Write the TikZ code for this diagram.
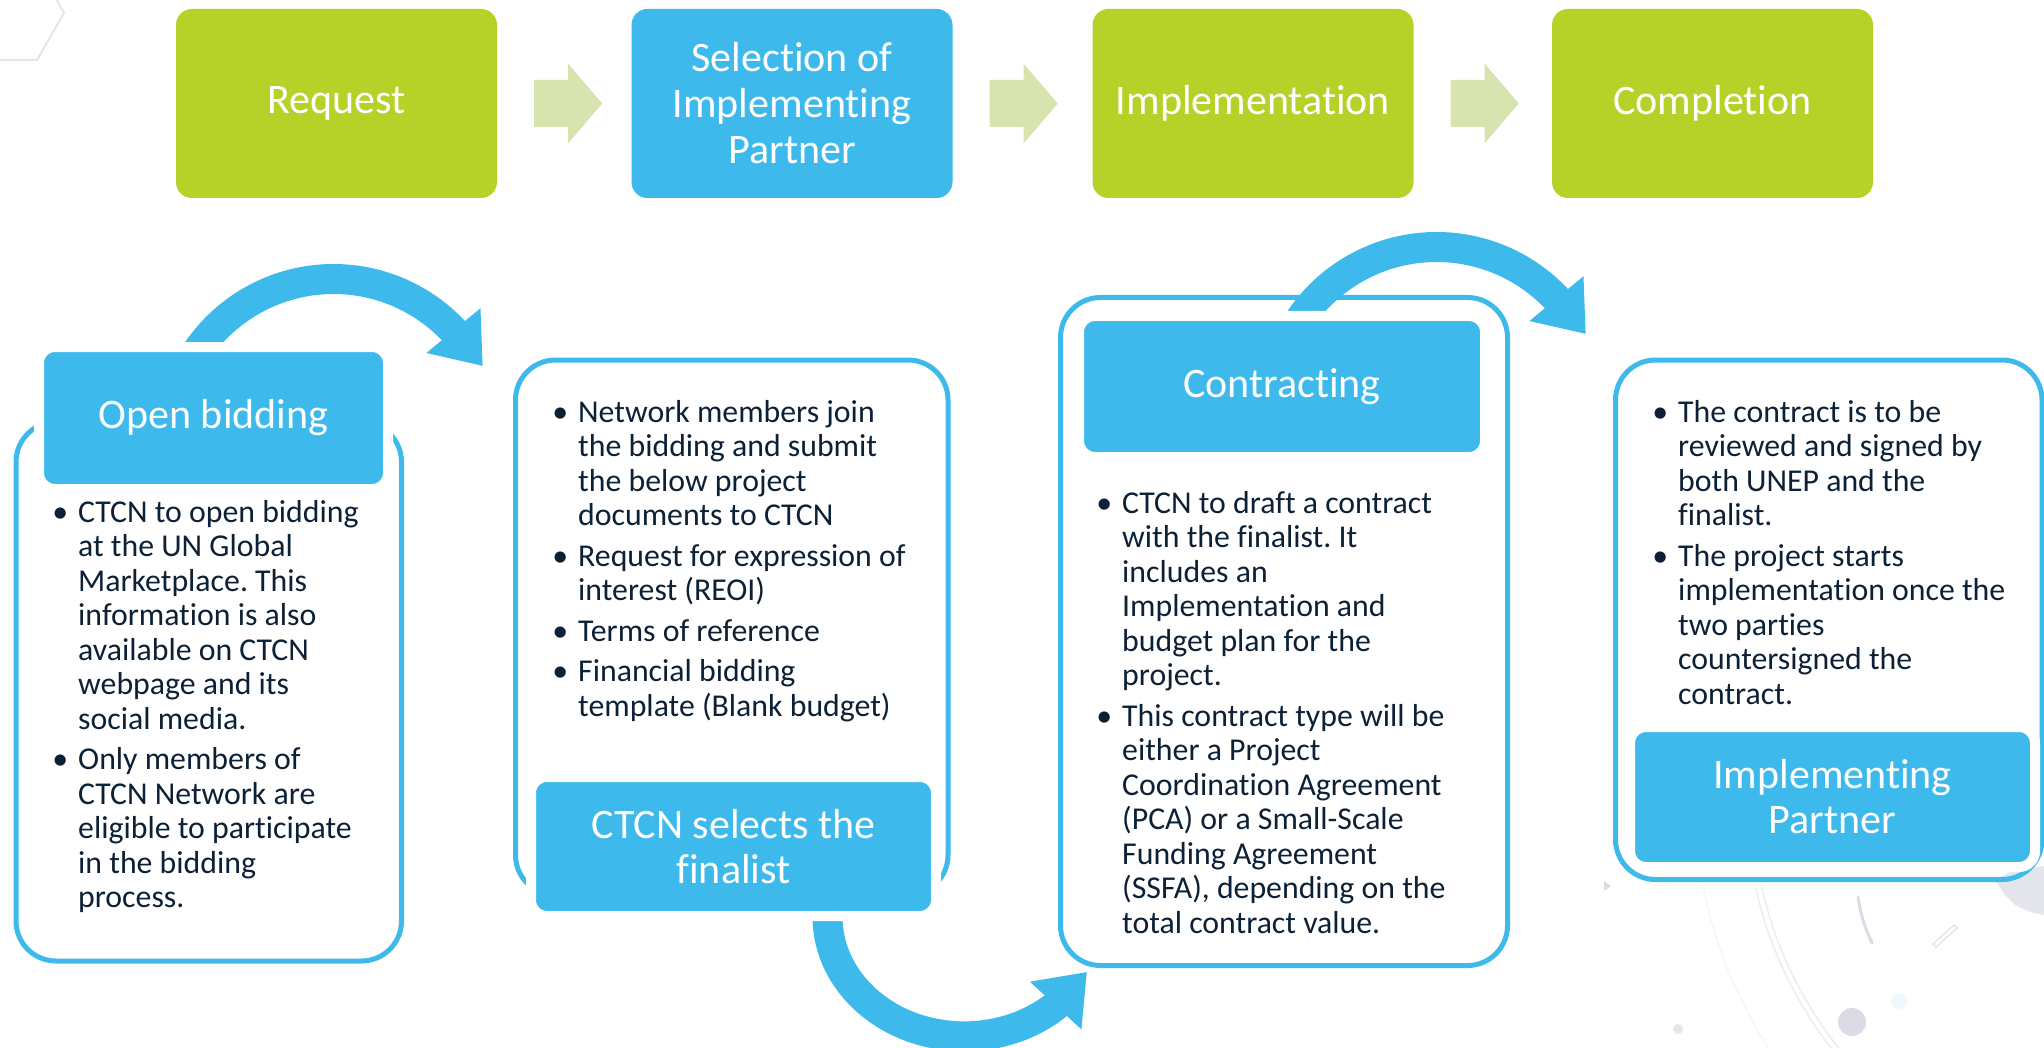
\documentclass[tikz,border=0pt]{standalone}
\usepackage{fontspec}
\setmainfont{Carlito}[Ligatures={NoCommon,NoContextual}]
\frenchspacing
\usetikzlibrary{arrows.meta,calc}
\definecolor{ctcngreen}{HTML}{B6D127}
\definecolor{ctcnblue}{HTML}{3DBAEB}
\definecolor{stepgreen}{HTML}{D8E4B0}
\definecolor{bodytext}{HTML}{0C2136}
\definecolor{faint}{HTML}{E6E6EA}
\definecolor{dust}{HTML}{DADBE5}
\newcommand{\itemdot}{\makebox[36pt]{\textbullet}}
\tikzset{
  phase/.style={rounded corners=16pt, minimum width=321pt, minimum height=189pt, inner sep=0pt, text=white, align=center, font=\fontsize{42}{46}\selectfont},
  panel/.style={draw=ctcnblue, line width=5pt, rounded corners=40pt, inner sep=0pt},
  panelhead/.style={fill=ctcnblue, draw=white, line width=10pt, rounded corners=16pt, inner sep=0pt, text=white, align=center, font=\fontsize{42}{45}\selectfont},
  bulletlist/.style={anchor=base west, inner sep=0pt, text=bodytext, font=\fontsize{31.8}{34.5}\selectfont},
  turnarrow/.style={draw=ctcnblue, line width=30pt, -{Triangle[width=67pt,length=46pt]}}
}
\begin{document}
\begin{tikzpicture}[x=1pt,y=-1pt]
\useasboundingbox (0,0) rectangle (2044,1048);
\clip (0,0) rectangle (2044,1048);
\fill[white] (0,0) rectangle (2044,1048);
\draw[faint, line width=2pt] (0,60) -- (37,60) -- (64,13) -- (40,-30);
\draw[faint!70, line width=1.5pt] (2150,800) ++(167.4:398) arc[start angle=167.4, end angle=130, radius=398];
\draw[faint!70, line width=1.5pt] (2150,800) ++(167.4:404) arc[start angle=167.4, end angle=130, radius=404];
\draw[faint!50, line width=1pt] (2150,800) ++(169:455) arc[start angle=169, end angle=140, radius=455];
\draw[dust, line width=3pt, line cap=round] (1858,897) to[bend right=8] (1872,943);
\draw[faint, line width=1.5pt] (1933,944) -- (1954,925) -- (1957,928) -- (1936,947) -- cycle;
\fill[dust!70] (1995,880) -- (2010,872) -- (2030,868) -- (2044,866) -- (2044,915) -- (2030,912) -- (2015,905) -- (2005,895) -- cycle;
\fill[dust] (1604,881) -- (1611,886) -- (1604,891) -- cycle;
\fill[dust] (1852,1022) circle[radius=14];
\fill[ctcnblue!8] (1899,1001) circle[radius=8];
\fill[gray!20] (1678,1029) circle[radius=5];

\node[phase, fill=ctcngreen] (request) at (336.5,103.5) {Request};
\node[phase, fill=ctcnblue] (selection) at (792,103.5) {Selection of\\Implementing\\Partner};
\node[phase, fill=ctcngreen] (implementation) at (1253,103.5) {Implementation};
\node[phase, fill=ctcngreen] (completion) at (1712.5,103.5) {Completion};
\foreach \s in {request,selection,implementation}
  \fill[stepgreen] ($(\s.east)+(37,-23.5)$) -- ++(34,0) -- ++(0,-16.25) -- ++(34,39.75) -- ++(-34,39.75) -- ++(0,-16.25) -- ++(-34,0) -- cycle;

\node[panel, minimum width=385.5pt, minimum height=539pt] (openbox) at (208.75,691.5) {};
\node[panel, minimum width=432.5pt, minimum height=535pt] (selectbox) at (731.75,627.5) {};
\node[panel, minimum width=447pt, minimum height=668pt] (contractbox) at (1284,631.5) {};
\node[panel, minimum width=426.5pt, minimum height=519.5pt] (partnerbox) at (1828.75,619.75) {};

\coordinate (bidturn) at (191.5,360);
\coordinate (contractturn) at (1294.5,328);
\coordinate (finalturn) at (828.2,905);
\draw[turnarrow] (bidturn) arc[start angle=-149.4, end angle=-43.2, radius=165] -- ++(29,35);
\draw[turnarrow] (contractturn) arc[start angle=-149.4, end angle=-43.2, radius=165] -- ++(29,35);
\draw[turnarrow] (finalturn) arc[start angle=185.7, end angle=48.5, x radius=136.8, y radius=119.5] -- ++(32,-34.5);

\node[panelhead, minimum width=349pt, minimum height=142pt] (openhdr) at (213.5,418) {Open bidding};
\node[panelhead, minimum width=405pt, minimum height=139pt] (selhdr) at (733.5,846.5) {CTCN selects the\\finalist};
\node[panelhead, minimum width=406pt, minimum height=141pt] (contrhdr) at (1282,386.5) {Contracting};
\node[panelhead, minimum width=405pt, minimum height=140pt] (parthdr) at (1832.5,797) {Implementing\\Partner};

\node[bulletlist] (openlist) at (42,522) {\begin{tabular}[t]{@{}l@{}l@{}}
\itemdot & CTCN to open bidding\\
 & at the UN Global\\
 & Marketplace. This\\
 & information is also\\
 & available on CTCN\\
 & webpage and its\\
 & social media.\\[6pt]
\itemdot & Only members of\\
 & CTCN Network are\\
 & eligible to participate\\
 & in the bidding\\
 & process.
\end{tabular}};
\node[bulletlist] (selectlist) at (542,422) {\begin{tabular}[t]{@{}l@{}l@{}}
\itemdot & Network members join\\
 & the bidding and submit\\
 & the below project\\
 & documents to CTCN\\[6pt]
\itemdot & Request for expression of\\
 & interest (REOI)\\[6pt]
\itemdot & Terms of reference\\[6pt]
\itemdot & Financial bidding\\
 & template (Blank budget)
\end{tabular}};
\node[bulletlist] (contractlist) at (1086,513) {\begin{tabular}[t]{@{}l@{}l@{}}
\itemdot & CTCN to draft a contract\\
 & with the finalist. It\\
 & includes an\\
 & Implementation and\\
 & budget plan for the\\
 & project.\\[6pt]
\itemdot & This contract type will be\\
 & either a Project\\
 & Coordination Agreement\\
 & (PCA) or a Small-Scale\\
 & Funding Agreement\\
 & (SSFA), depending on the\\
 & total contract value.
\end{tabular}};
\node[bulletlist] (partnerlist) at (1642,422) {\begin{tabular}[t]{@{}l@{}l@{}}
\itemdot & The contract is to be\\
 & reviewed and signed by\\
 & both UNEP and the\\
 & finalist.\\[6pt]
\itemdot & The project starts\\
 & implementation once the\\
 & two parties\\
 & countersigned the\\
 & contract.
\end{tabular}};
\end{tikzpicture}
\end{document}
